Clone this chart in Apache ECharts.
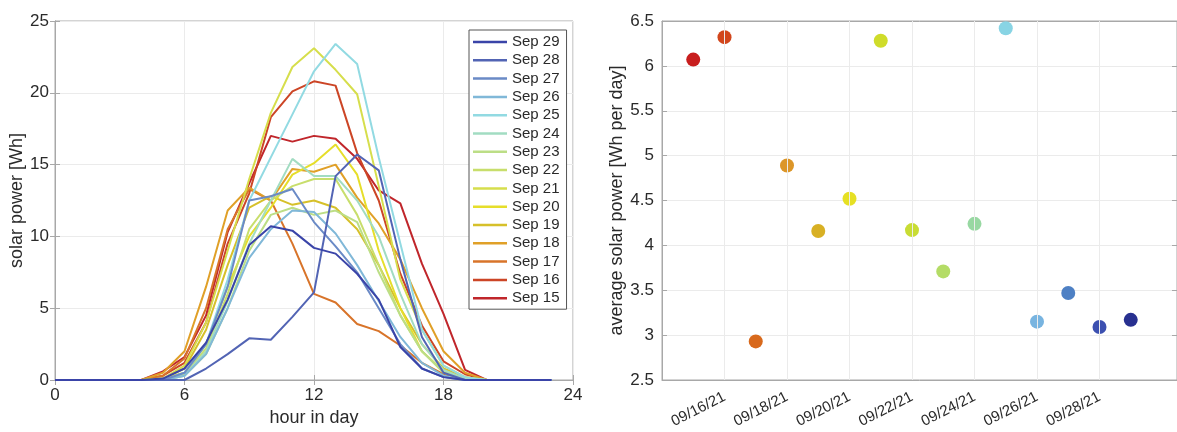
<!DOCTYPE html>
<html>
<head>
<meta charset="utf-8">
<script src="https://cdn.jsdelivr.net/npm/echarts@6/dist/echarts.min.js"></script>
<style>
html,body{margin:0;padding:0;background:#fff;}
#c{width:1177px;height:432px;}
</style>
</head>
<body>
<div id="c"></div>
<script>
// ---------- data ----------
const hours = [0,1,2,3,4,5,6,7,8,9,10,11,12,13,14,15,16,17,18,19,20,21,22,23];
const dayNames = ['Sep 15','Sep 16','Sep 17','Sep 18','Sep 19','Sep 20','Sep 21','Sep 22','Sep 23','Sep 24','Sep 25','Sep 26','Sep 27','Sep 28','Sep 29'];
const sep15 = [0,0,0,0,0,0.6,1.6,4.5,10.3,13.7,17.0,16.6,17.0,16.8,15.4,13.2,12.3,8.1,4.6,0.7,0,0,0,0];
const sep16 = [0,0,0,0,0,0.3,1.2,4.0,9.5,13.0,18.3,20.1,20.8,20.5,15.8,12.5,7.4,3.8,1.3,0.4,0,0,0,0];
const sep17 = [0,0,0,0,0,0.3,1.5,5.0,10.5,13.3,12.5,9.5,6.0,5.4,3.9,3.4,2.4,1.2,0.4,0.1,0,0,0,0];
const sep18 = [0,0,0,0,0,0.5,2.0,6.5,11.8,13.4,12.5,14.7,14.5,15.0,12.7,10.9,8.4,5.0,2.0,0.5,0,0,0,0];
const sep19 = [0,0,0,0,0,0.1,0.8,3.5,8.0,12.0,12.8,12.2,12.5,12.0,10.5,8.0,5.0,2.5,0.8,0.2,0,0,0,0];
const sep20 = [0,0,0,0,0,0.1,0.5,2.5,6.5,10.0,12.0,14.3,15.1,16.4,14.3,9.0,5.0,2.0,0.6,0.1,0,0,0,0];
const sep21 = [0,0,0,0,0,0.1,1.0,4.0,9.0,14.0,18.6,21.8,23.1,21.6,19.9,13.5,7.0,3.5,1.0,0.2,0,0,0,0];
const sep22 = [0,0,0,0,0,0,0.4,2.2,6.0,10.5,12.5,13.5,14.0,14.0,11.5,8.0,4.5,2.0,0.6,0.1,0,0,0,0];
const sep23 = [0,0,0,0,0,0,0.3,1.8,5.0,9.0,11.5,12.0,11.5,11.8,11.0,7.5,4.5,2.0,0.5,0.1,0,0,0,0];
const sep24 = [0,0,0,0,0,0,0.3,2.0,5.5,9.5,12.5,15.4,14.2,14.2,12.5,10.0,6.0,2.5,0.7,0.1,0,0,0,0];
const sep25 = [0,0,0,0,0,0,0.5,2.5,7.0,12.5,15.5,18.5,21.5,23.4,22.0,15.5,9.5,3.5,1.0,0.2,0,0,0,0];
const sep26 = [0,0,0,0,0,0,0.3,1.8,5.0,8.5,10.5,11.8,11.7,10.2,8.0,5.5,3.0,1.2,0.3,0,0,0,0,0];
const sep27 = [0,0,0,0,0,0,0.5,2.5,6.5,12.5,12.8,13.3,11.0,9.3,7.5,5.0,2.5,0.8,0.2,0,0,0,0,0];
const sep28 = [0,0,0,0,0,0,0,0.8,1.8,2.9,2.8,4.4,6.1,14.2,15.7,14.6,8.4,3.0,0.5,0,0,0,0,0];
const sep29 = [0,0,0,0,0,0.1,0.8,2.6,5.6,9.4,10.7,10.4,9.2,8.8,7.4,5.6,2.3,0.8,0.2,0,0,0,0,0];
const hourlySeries = [sep15,sep16,sep17,sep18,sep19,sep20,sep21,sep22,sep23,sep24,sep25,sep26,sep27,sep28,sep29];

const avgDates = ['09/15/21','09/16/21','09/17/21','09/18/21','09/19/21','09/20/21','09/21/21','09/22/21','09/23/21','09/24/21','09/25/21','09/26/21','09/27/21','09/28/21','09/29/21'];
const avgPower = [6.07,6.32,2.93,4.89,4.16,4.52,6.28,4.17,3.71,4.24,6.42,3.15,3.47,3.09,3.17];

const leftXTicks = [0,6,12,18,24];
const leftYTicks = [0,5,10,15,20,25];
const rightYTicks = [2.5,3,3.5,4,4.5,5,5.5,6,6.5];
const rightXTickDates = ['09/16/21','09/18/21','09/20/21','09/22/21','09/24/21','09/26/21','09/28/21'];

// ---------- styles ----------
const lineColors = ['#c0262b','#cc4526','#d8742a','#e0a028','#d6c02a','#e6de2a','#d6de4c','#c8de6c','#bcde86','#a2dcc2','#92dae2','#80b8d8','#6a8ac6','#5264b4','#3a44a8'];
const dotColors  = ['#c81e1e','#d2461c','#d8691c','#dc9628','#d8b024','#e6e024','#cfdc2a','#c8dc34','#b4dc66','#98d8a2','#88d4e4','#78b4e0','#4e80c4','#3c50b0','#283090'];

const dayNum = s => parseInt(s.slice(3,5), 10);
const fontFam = '"Liberation Sans", Arial, Helvetica, sans-serif';
const boxColor = '#a8a8a8';
const gridColor = '#ebebeb';
const textColor = '#2a2a2a';

const chart = echarts.init(document.getElementById('c'), null, {renderer:'canvas'});

const lineSeries = hourlySeries.map((arr, i) => ({
  name: dayNames[i],
  type: 'line',
  xAxisIndex: 0, yAxisIndex: 0,
  data: hours.map((h, j) => [h, arr[j]]),
  symbol: 'none',
  lineStyle: {width: 2, color: lineColors[i]},
  itemStyle: {color: lineColors[i]},
  z: 3
}));

const rightXMin = 14, rightXMax = 30.48;
const rightTickNums = rightXTickDates.map(dayNum);

const option = {
  animation: false,
  textStyle: {fontFamily: fontFam},
  grid: [
    {left: 55, top: 21, right: 604, bottom: 52, show: true, borderColor: boxColor, borderWidth: 1},
    {left: 662, top: 21, right: -2, bottom: 52, show: true, borderColor: boxColor, borderWidth: 1}
  ],
  legend: {
    data: dayNames.slice().reverse(),
    orient: 'vertical',
    left: 469, top: 30,
    itemWidth: 34, itemHeight: 2.5,
    icon: 'rect',
    itemGap: 2.3,
    padding: [4, 7, 3, 4],
    borderColor: '#555', borderWidth: 1,
    backgroundColor: '#fff',
    textStyle: {fontSize: 15, color: textColor, fontFamily: fontFam, lineHeight: 16}
  },
  xAxis: [
    {gridIndex: 0, type: 'value', min: 0, max: 24, interval: 6,
     name: 'hour in day', nameLocation: 'middle', nameGap: 29,
     nameTextStyle: {fontSize: 18, color: textColor},
     axisLine: {show: true, lineStyle: {color: boxColor}},
     axisTick: {inside: true, length: 5, lineStyle: {color: boxColor}},
     axisLabel: {fontSize: 17, color: textColor, margin: 7, customValues: leftXTicks},
     splitLine: {show: true, lineStyle: {color: gridColor, width: 1}}},
    {gridIndex: 0, type: 'value', position: 'top', min: 0, max: 24, interval: 6,
     axisLine: {show: true, lineStyle: {color: boxColor}},
     axisTick: {inside: true, length: 5, lineStyle: {color: boxColor}},
     axisLabel: {show: false}, splitLine: {show: false}},
    {gridIndex: 1, type: 'value', min: rightXMin, max: rightXMax,
     axisLine: {show: true, lineStyle: {color: boxColor}},
     axisTick: {inside: true, length: 5, lineStyle: {color: boxColor}, customValues: rightTickNums},
     axisLabel: {fontSize: 15, color: textColor, rotate: 27, margin: 16,
                 customValues: rightTickNums,
                 formatter: v => rightXTickDates[rightTickNums.indexOf(Math.round(v))] || ''},
     splitLine: {show: false}},
    {gridIndex: 1, type: 'value', position: 'top', min: rightXMin, max: rightXMax,
     axisLine: {show: true, lineStyle: {color: boxColor}},
     axisTick: {inside: true, length: 5, lineStyle: {color: boxColor}, customValues: rightTickNums},
     axisLabel: {show: false}, splitLine: {show: false}}
  ],
  yAxis: [
    {gridIndex: 0, type: 'value', min: 0, max: 25, interval: 5,
     name: 'solar power [Wh]', nameLocation: 'middle', nameGap: 26, nameRotate: 90,
     nameTextStyle: {fontSize: 18, color: textColor},
     axisLine: {show: true, lineStyle: {color: boxColor}},
     axisTick: {inside: true, length: 5, lineStyle: {color: boxColor}},
     axisLabel: {fontSize: 17, color: textColor, margin: 6, customValues: leftYTicks},
     splitLine: {show: true, lineStyle: {color: gridColor, width: 1}}},
    {gridIndex: 0, type: 'value', position: 'right', min: 0, max: 25, interval: 5,
     axisLine: {show: true, lineStyle: {color: boxColor}},
     axisTick: {inside: true, length: 5, lineStyle: {color: boxColor}},
     axisLabel: {show: false}, splitLine: {show: false}},
    {gridIndex: 1, type: 'value', min: 2.5, max: 6.5, interval: 0.5,
     name: 'average solar power [Wh per day]', nameLocation: 'middle', nameGap: 29, nameRotate: 90,
     nameTextStyle: {fontSize: 18, color: textColor},
     axisLine: {show: true, lineStyle: {color: boxColor}},
     axisTick: {inside: true, length: 5, lineStyle: {color: boxColor}},
     axisLabel: {fontSize: 17, color: textColor, margin: 8, customValues: rightYTicks},
     splitLine: {show: true, lineStyle: {color: gridColor, width: 1}}},
    {gridIndex: 1, type: 'value', position: 'right', min: 2.5, max: 6.5, interval: 0.5,
     axisLine: {show: true, lineStyle: {color: boxColor}},
     axisTick: {inside: true, length: 5, lineStyle: {color: boxColor}},
     axisLabel: {show: false}, splitLine: {show: false}}
  ],
  series: lineSeries.concat([
    {
      type: 'line', xAxisIndex: 2, yAxisIndex: 2, data: [], z: 1, silent: true,
      markLine: {
        silent: true, symbol: 'none', label: {show: false},
        lineStyle: {color: gridColor, width: 1, type: 'solid'},
        data: rightTickNums.map(d => ({xAxis: d}))
      }
    },
    {
      type: 'scatter', xAxisIndex: 2, yAxisIndex: 2, z: 4,
      symbolSize: 14,
      data: avgDates.map((d, i) => ({value: [dayNum(d), avgPower[i]], itemStyle: {color: dotColors[i], opacity: 1}}))
    }
  ])
};
chart.setOption(option);
</script>
</body>
</html>
